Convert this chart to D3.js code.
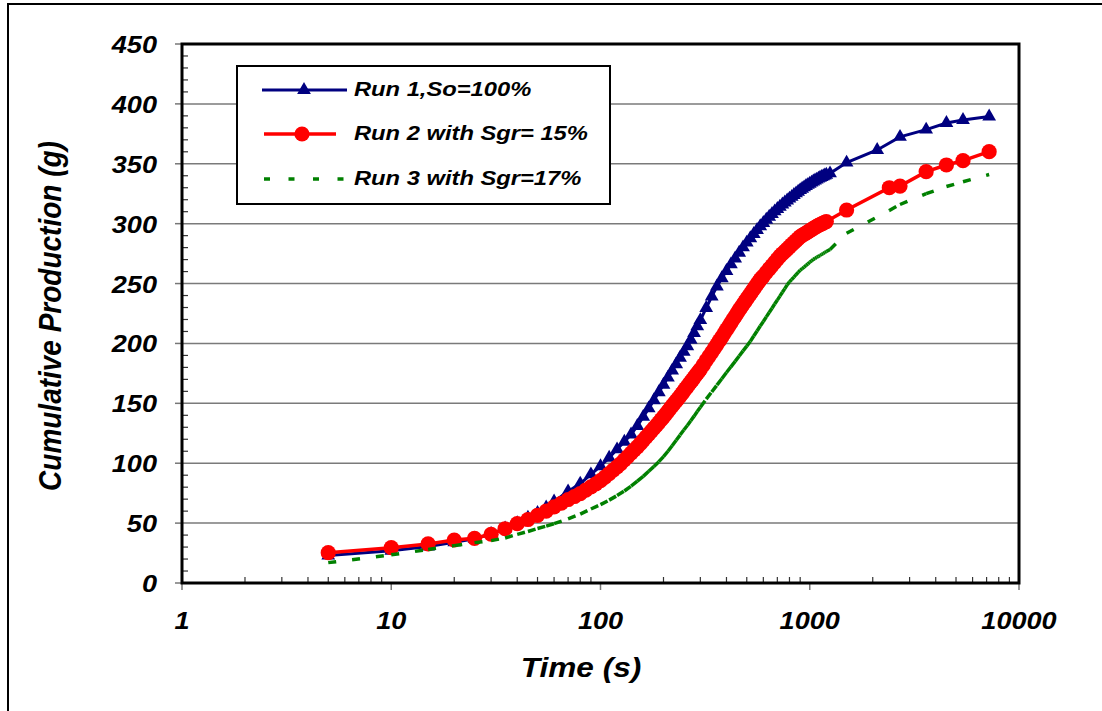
<!DOCTYPE html>
<html><head><meta charset="utf-8">
<script src="https://cdn.jsdelivr.net/npm/d3@7"></script>
<style>
body{margin:0;background:#fff;}
text{font-family:Arial,"Liberation Sans",sans-serif;font-weight:bold;font-style:italic;fill:#000;}
</style>
</head><body>
<svg id="chart" width="1102" height="711"></svg>
<script>
// ---- data ----
// Run 1 and Run 3 share this sampling of the dense part
const timeDense = [5,10,15,20,25,30,35,40,45,50,55,60,
  70,80,90,100,110,120,130,140,150,160,170,180,190,200,210,220,230,240,250,260,270,280,290,300,
  320,340,360,380,400,420,440,460,480,500,520,540,560,580,600,620,640,660,680,700,720,740,760,780,800,
  820,840,860,880,900,920,940,960,980,1000,1020,1040,1060,1080,1100,1120,1140,1160,1180,1200];
const run1Dense = [23,27,30.5,34,37,41,45.5,50,54.5,58.5,63,68,
  76.5,83,90.7,97.5,104.6,111.6,118,124,131.1,138.7,145.8,152.6,159.2,165.5,171.5,177.3,182.7,188,193,197.7,203.1,208.8,214.3,219.5,
  229.6,239.2,247.5,254.5,260.5,266,271,275.8,280.2,284.2,287.9,291.4,294.7,297.8,300.6,303.3,305.8,308.1,310.3,312.3,314.2,316,317.7,319.3,320.9,
  322.4,323.9,325.3,326.7,328,329.2,330.3,331.4,332.4,333.4,334.3,335.2,336,336.8,337.6,338.3,339,339.6,340.2,340.8];
const run1TailTime  = [1250,1500,2100,2700,3600,4500,5400,7200];
const run1TailValue = [342,351,361.5,372.5,378.5,384,386.5,389.5];

// Run 2 is sampled more densely
const run2Time = [5,10,15,20,25,30,35,40,45,50,55,60,
  65,70,75,80,85,90,95,100,105,110,115,120,125,130,135,140,145,150,155,160,165,170,175,180,185,190,195,200,
  205,210,215,220,225,230,235,240,245,250,255,260,265,270,275,280,285,290,295,300,
  310,320,330,340,350,360,370,380,390,400,410,420,430,440,450,460,470,480,490,500,510,520,530,540,550,560,570,580,590,600,
  620,640,660,680,700,720,740,760,780,800,820,840,860,880,900,920,940,960,980,1000,1020,1040,1060,1080,1100,1120,1140,1160,1180,1200,
  1500,2400,2700,3600,4500,5400,7200];
const run2Value = [25.3,29.5,32.6,35.9,37.3,40.7,45.3,49.5,53,56.5,60,63.5,
  66.6,69.7,72.2,74.6,77.5,80.2,82.8,85.4,88.4,91.4,94.2,97,99.7,102.7,105.6,108.4,111.2,113.7,116.3,119,121.7,124.3,126.8,129.2,131.6,133.9,136.3,138.7,
  141,143.3,145.6,147.8,149.9,152,154,156.1,158.1,160.2,162.2,164,166,167.9,169.6,171.5,173.3,175,176.7,178.4,
  182.1,185.8,189.3,192.6,195.9,199.1,202.3,205.3,208.5,211.5,214.3,217.2,220,222.6,225.4,228,230.3,232.7,234.9,237.2,239.3,241.4,243.5,245.6,247.5,249.5,251.4,253.3,254.8,256.3,
  259.3,262.2,265,267.7,270.3,272.9,274.9,276.8,278.8,280.6,282.4,284.1,285.8,287.5,289.1,290.2,291.2,292.2,293.2,294.2,295.1,296.1,297,297.7,298.5,299.2,299.9,300.5,301.2,301.8,
  311.4,330,331.4,343.4,349,352.6,360.1];

const run3Dense = [17,23.5,28,31.2,33.7,35.4,37.6,40.6,43,45.5,47.5,49.5,
  53.5,57.5,61.8,65.4,69.2,73,76.8,80.9,85,89,93.3,97.3,101.3,105.5,110,114.6,119.2,123.5,127.7,131.5,135.5,139.3,143.1,146.8,
  153.5,159.5,165.2,170.5,175.7,180.5,185,189.5,193.8,197.8,201.7,206.2,210.4,214.5,218.3,222.2,225.9,229.4,232.9,236.2,239.5,242.7,245.8,248.9,251.4,
  253.4,255.4,257.4,259.3,261.1,262.5,263.8,265.1,266.4,267.8,269,270.2,271,271.9,272.7,273.5,274.4,275.1,275.9,276.7];
const run3TailTime  = [1250,1500,2400,2700,3600,4500,5400,7200];
const run3TailValue = [278.5,292,311,316,325,331,335,341];

const xTickValues = [1,10,100,1000,10000];
const yTickValues = [0,50,100,150,200,250,300,350,400,450];
const seriesNames = ["Run 1,So=100%","Run 2 with Sgr= 15%","Run 3 with Sgr=17%"];
const xTitle = "Time (s)";
const yTitle = "Cumulative Production (g)";

// ---- build ----
function pts(times, vals){ return times.map((t,i)=>({t:t, v:vals[i]})); }
const s1 = pts(timeDense, run1Dense).concat(pts(run1TailTime, run1TailValue));
const s2 = pts(run2Time, run2Value);
const s3 = pts(timeDense, run3Dense).concat(pts(run3TailTime, run3TailValue));

const svg = d3.select("#chart");
const L = 182, R = 1019, T = 44, B = 583;
const x = d3.scaleLog().domain([1,10000]).range([L,R]);
const y = d3.scaleLinear().domain([0,450]).range([B,T]);
const SX = 1.13;
const NAVY = "#000080", RED = "#ff0000", GREEN = "#008000";

function label(g, px, py, str, size, anchor, rot){
  return g.append("text")
    .attr("transform", `translate(${px},${py}) scale(${SX},1)` + (rot ? ` rotate(${rot})` : ""))
    .attr("text-anchor", anchor)
    .style("font-size", size + "px")
    .text(str);
}

// outer frame
svg.append("rect").attr("x",8).attr("y",4).attr("width",1200).attr("height",800)
  .attr("fill","none").attr("stroke","#000").attr("stroke-width",2);

// gridlines
svg.append("g").selectAll("line").data(yTickValues.filter(v=>v>0 && v<450)).join("line")
  .attr("x1",L).attr("x2",R).attr("y1",d=>y(d)).attr("y2",d=>y(d))
  .attr("stroke","#7a7a7a").attr("stroke-width",1.5);

// y axis ticks
const yMinor = d3.range(10,450,10).filter(v=>v%50!==0);
svg.append("g").selectAll("line").data(yTickValues).join("line")
  .attr("x1",L-7).attr("x2",L).attr("y1",d=>y(d)).attr("y2",d=>y(d))
  .attr("stroke","#777").attr("stroke-width",1.5);
svg.append("g").selectAll("line").data(yMinor).join("line")
  .attr("x1",L).attr("x2",L+6).attr("y1",d=>y(d)).attr("y2",d=>y(d))
  .attr("stroke","#333").attr("stroke-width",1.2);

// x axis ticks
const xMinor = [];
[1,10,100,1000].forEach(dec=>{ for(let k=2;k<=9;k++) xMinor.push(dec*k); });
svg.append("g").selectAll("line").data(xTickValues).join("line")
  .attr("x1",d=>x(d)).attr("x2",d=>x(d)).attr("y1",B).attr("y2",B+7)
  .attr("stroke","#777").attr("stroke-width",1.5);
svg.append("g").selectAll("line").data(xMinor).join("line")
  .attr("x1",d=>x(d)).attr("x2",d=>x(d)).attr("y1",B-6).attr("y2",B)
  .attr("stroke","#333").attr("stroke-width",1.2);

// plot border
svg.append("rect").attr("x",L).attr("y",T).attr("width",R-L).attr("height",B-T)
  .attr("fill","none").attr("stroke","#000").attr("stroke-width",3);

// tick labels
const gl = svg.append("g");
yTickValues.forEach(v=> label(gl, 157, y(v)+9, String(v), 24, "end"));
xTickValues.forEach(v=> label(gl, x(v), 629, String(v), 24, "middle"));
label(gl, 581, 677, xTitle, 28, "middle");
label(gl, 61, 316, yTitle, 28, "middle", -90);

// series
const line = d3.line().x(d=>x(d.t)).y(d=>y(d.v));
const gS = svg.append("g");
// run 1
gS.append("path").attr("d", line(s1)).attr("fill","none").attr("stroke",NAVY).attr("stroke-width",3);
const tri = d3.symbol().type(d3.symbolTriangle).size(82);
gS.append("g").selectAll("path").data(s1).join("path")
  .attr("d", tri).attr("transform", d=>`translate(${x(d.t)},${y(d.v)})`)
  .attr("fill",NAVY);
// run 2
gS.append("path").attr("d", line(s2)).attr("fill","none").attr("stroke",RED).attr("stroke-width",3.5);
gS.append("g").selectAll("circle").data(s2).join("circle")
  .attr("cx",d=>x(d.t)).attr("cy",d=>y(d.v)).attr("r",7.6).attr("fill",RED);
// run 3 (dashed, pattern restarts per segment)
const segs3 = d3.pairs(s3);
gS.append("g").selectAll("line").data(segs3).join("line")
  .attr("x1",d=>x(d[0].t)).attr("y1",d=>y(d[0].v)).attr("x2",d=>x(d[1].t)).attr("y2",d=>y(d[1].v))
  .attr("stroke",GREEN).attr("stroke-width",3.5).attr("stroke-dasharray","8,16");

// legend
const gL = svg.append("g");
gL.append("rect").attr("x",237).attr("y",66).attr("width",373).attr("height",138)
  .attr("fill","#fff").attr("stroke","#000").attr("stroke-width",2);
gL.append("line").attr("x1",262).attr("x2",347).attr("y1",90).attr("y2",90).attr("stroke",NAVY).attr("stroke-width",3);
gL.append("path").attr("d",tri).attr("transform","translate(304,90)").attr("fill",NAVY);
gL.append("line").attr("x1",264).attr("x2",336).attr("y1",134).attr("y2",134).attr("stroke",RED).attr("stroke-width",3.5);
gL.append("circle").attr("cx",302).attr("cy",134).attr("r",7.6).attr("fill",RED);
gL.append("line").attr("x1",264).attr("x2",346).attr("y1",179).attr("y2",179).attr("stroke",GREEN).attr("stroke-width",3.5).attr("stroke-dasharray","6,18.5");
label(gL, 354, 96, seriesNames[0], 21, "start");
label(gL, 354, 140, seriesNames[1], 21, "start");
label(gL, 354, 185, seriesNames[2], 21, "start");
</script>
</body></html>
